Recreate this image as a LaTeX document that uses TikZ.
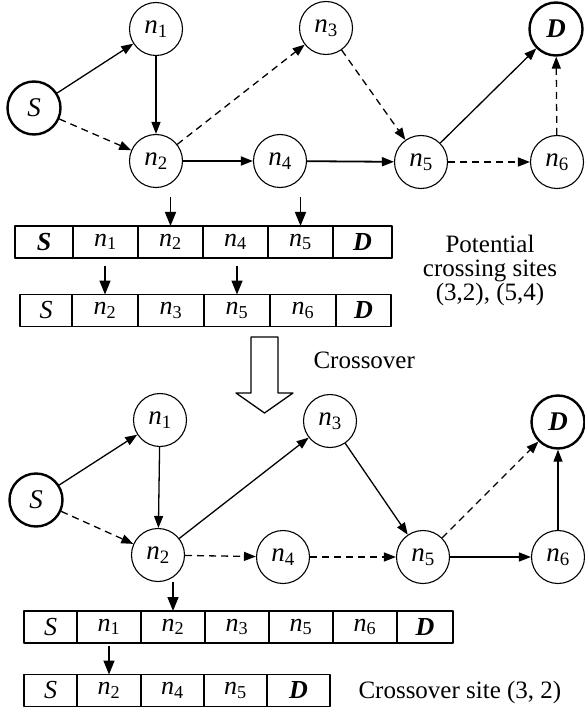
\documentclass[tikz,border=0pt]{standalone}
\usepackage{fontspec}
\setmainfont{Liberation Serif}
\usetikzlibrary{arrows.meta,positioning}
\newcommand\vn[1]{\textit{n}\textsubscript{#1}}
\newcommand\sv{\textit{S}}
\newcommand\dv{\textbf{\textit{D}}}

\begin{document}
\begin{tikzpicture}[x=1pt,y=-1pt,>={Triangle[length=12pt,width=9pt]},
    line join=round,font=\fontsize{25}{24}\selectfont,
    vtx/.style={circle,draw,line width=1.1pt,minimum size=53pt,inner sep=0pt,
      font=\fontsize{27}{27}\selectfont},
    term/.style={vtx,line width=2.4pt},
    cell/.style={draw,line width=1.2pt,minimum height=32pt,inner sep=0pt,outer sep=0pt,
      font=\fontsize{26}{26}\selectfont},
    link/.style={->,line width=1.3pt},
    dlink/.style={link,dash pattern=on 7pt off 5pt},
    ptr/.style={-{Triangle[length=14pt,width=11pt]},line width=1.5pt}]
  \useasboundingbox (0,0) rectangle (585,711);

  % parent routes
  \node[term] (ts) at (34,108) {\sv};
  \node[vtx] (t1) at (156,29) {\vn1};
  \node[vtx] (t2) at (156,161) {\vn2};
  \node[vtx] (t3) at (326,28) {\vn3};
  \node[vtx] (t4) at (280,161) {\vn4};
  \node[vtx] (t5) at (421,162) {\vn5};
  \node[vtx] (t6) at (557,162) {\vn6};
  \node[term] (td) at (556,29) {\dv};

  \draw[link] (ts) -- (t1);
  \draw[dlink] (ts) -- (t2);
  \draw[link] (t1) -- (t2);
  \draw[dlink] (t2) -- (t3);
  \draw[link,line width=1.8pt] (t2) -- (t4);
  \draw[dlink] (t3) -- (t5);
  \draw[link,line width=1.8pt] (t4) -- (t5);
  \draw[link] (t5) -- (td);
  \draw[dlink] (t5) -- (t6);
  \draw[dlink] (t6) -- (td);

  % chromosomes
  \coordinate (r1c0) at (15,242);
  \foreach \t/\w [count=\i,remember=\i as \j (initially 0)] in
      {{\textbf{\textit{S}}}/58,{\vn1}/65,{\vn2}/65,{\vn4}/65,{\vn5}/65,{\dv}/59}
    \node[cell,minimum width=\w pt,right=0pt of r1c\j] (r1c\i) {\t};
  \coordinate (r2c0) at (20,310.5);
  \foreach \t/\w [count=\i,remember=\i as \j (initially 0)] in
      {{\sv}/52,{\vn2}/66,{\vn3}/66,{\vn5}/66,{\vn6}/66,{\dv}/55}
    \node[cell,minimum width=\w pt,right=0pt of r2c\j] (r2c\i) {\t};

  \coordinate (p1) at ([yshift=29pt]r1c3.north);
  \coordinate (p2) at ([yshift=29pt]r1c5.north);
  \coordinate (p3) at ([yshift=29pt]r2c2.north);
  \coordinate (p4) at ([yshift=29pt]r2c4.north);
  \draw[ptr] (p1) -- (r1c3.north);
  \draw[ptr] (p2) -- (r1c5.north);
  \draw[ptr] (p3) -- (r2c2.north);
  \draw[ptr] (p4) -- (r2c4.north);

  \node[align=center] (sites) at (490,270) {Potential\\crossing sites\\(3,2), (5,4)};

  % crossover
  \draw[line width=1.3pt] (251,337) -- (278,337) -- (278,393) -- (293,393)
    -- (264.5,413) -- (236,393) -- (251,393) -- cycle;
  \node[anchor=base west] (xo) at (310,368) {Crossover};

  % offspring route
  \node[term] (bs) at (36,500) {\sv};
  \node[vtx] (b1) at (160,420) {\vn1};
  \node[vtx] (b2) at (158,555) {\vn2};
  \node[vtx] (b3) at (330,421) {\vn3};
  \node[vtx] (b4) at (283,557) {\vn4};
  \node[vtx] (b5) at (423,557) {\vn5};
  \node[vtx] (b6) at (558,557) {\vn6};
  \node[term] (bd) at (558,422) {\dv};

  \draw[link] (bs) -- (b1);
  \draw[dlink] (bs) -- (b2);
  \draw[link] (b1) -- (b2);
  \draw[link] (b2) -- (b3);
  \draw[dlink] (b2) -- (b4);
  \draw[link] (b3) -- (b5);
  \draw[dlink] (b4) -- (b5);
  \draw[dlink] (b5) -- (bd);
  \draw[link] (b5) -- (b6);
  \draw[link] (b6) -- (bd);

  \coordinate (r3c0) at (24,627);
  \foreach \t/\w [count=\i,remember=\i as \j (initially 0)] in
      {{\sv}/53,{\vn1}/64,{\vn2}/64,{\vn3}/64,{\vn5}/64,{\vn6}/64,{\dv}/56}
    \node[cell,minimum width=\w pt,right=0pt of r3c\j] (r3c\i) {\t};
  \coordinate (r4c0) at (24,690.5);
  \foreach \t/\w [count=\i,remember=\i as \j (initially 0)] in
      {{\sv}/53,{\vn2}/64,{\vn4}/63,{\vn5}/63,{\dv}/63}
    \node[cell,minimum width=\w pt,right=0pt of r4c\j] (r4c\i) {\t};

  \coordinate (p5) at ([yshift=29pt]r3c3.north);
  \coordinate (p6) at ([yshift=29pt]r4c2.north);
  \draw[ptr] (p5) -- (r3c3.north);
  \draw[ptr] (p6) -- (r4c2.north);

  \node[anchor=base west] (site) at (355,698) {Crossover site (3, 2)};
\end{tikzpicture}
\end{document}
